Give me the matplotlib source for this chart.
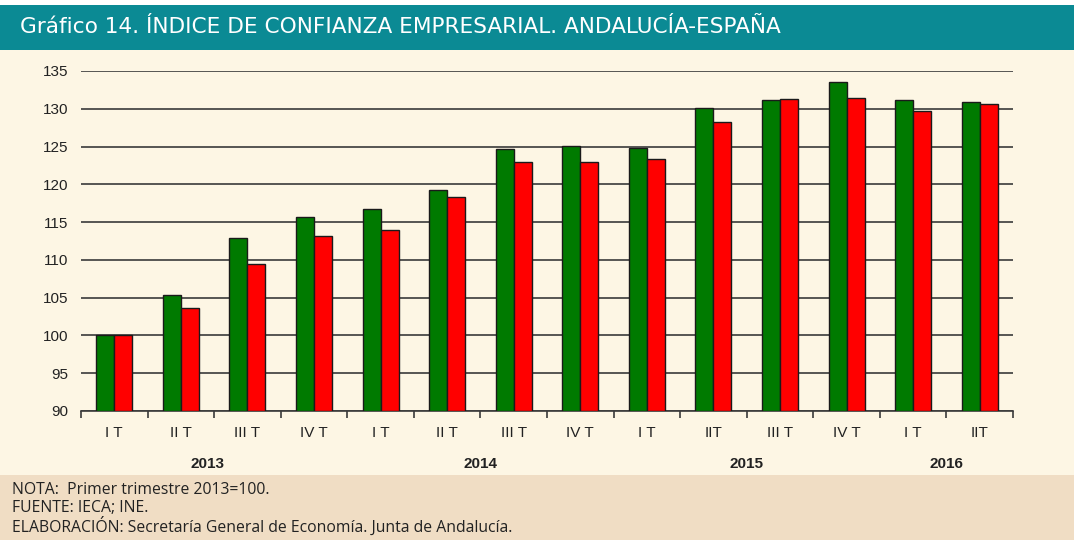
import numpy as np
import matplotlib.pyplot as plt
from matplotlib.patches import Rectangle

# Trimestres y valores (índice, I T 2013 = 100)
quarters = ['I T', 'II T', 'III T', 'IV T', 'I T', 'II T', 'III T', 'IV T',
            'I T', 'IIT', 'III T', 'IV T', 'I T', 'IIT']
years = ['2013', '2014', '2015', '2016']
year_pos = [1.4, 5.5, 9.5, 12.5]
andalucia = [100.0, 105.3, 112.9, 115.7, 116.7, 119.2, 124.7, 125.1,
             124.8, 130.1, 131.1, 133.6, 131.2, 130.9]
espana = [100.0, 103.6, 109.4, 113.1, 113.9, 118.3, 123.0, 123.0,
          123.4, 128.2, 131.3, 131.4, 129.7, 130.6]

W, H = 1074, 540
fig = plt.figure(figsize=(W / 100, H / 100), dpi=100)
fig.patch.set_facecolor('white')

# bandas de fondo: titulo, grafico, notas
fig.patches.append(Rectangle((0, 1 - 50 / H), 1, 45 / H, transform=fig.transFigure,
                             facecolor='#0b8a94', edgecolor='none', zorder=-5))
fig.patches.append(Rectangle((0, 65 / H), 1, (475 - 50) / H, transform=fig.transFigure,
                             facecolor='#fdf6e4', edgecolor='none', zorder=-5))
fig.patches.append(Rectangle((0, 0), 1, 65 / H, transform=fig.transFigure,
                             facecolor='#f0ddc4', edgecolor='none', zorder=-5))

fig.text(20 / W, 1 - 27 / H, 'Gráfico 14. ÍNDICE DE CONFIANZA EMPRESARIAL. ANDALUCÍA-ESPAÑA',
         color='white', fontsize=15.6, family='DejaVu Sans', va='center', ha='left')

notes = ['NOTA:  Primer trimestre 2013=100.',
         'FUENTE: IECA; INE.',
         'ELABORACIÓN: Secretaría General de Economía. Junta de Andalucía.']
for i, t in enumerate(notes):
    fig.text(12 / W, 1 - (490 + i * 18) / H, t, color='#222222', fontsize=11.3,
             family='Open Sans', va='center', ha='left')

ax = fig.add_axes([81 / W, 1 - 411 / H, (1013 - 81) / W, (411 - 71) / H])
ax.set_facecolor('none')

x = np.arange(len(quarters))
bw = 0.27
ax.bar(x - bw / 2, np.array(andalucia) - 90, bw, bottom=90, color='#007a00',
       edgecolor='#1a1a1a', linewidth=1.0, zorder=3)
ax.bar(x + bw / 2, np.array(espana) - 90, bw, bottom=90, color='#ff0000',
       edgecolor='#1a1a1a', linewidth=1.0, zorder=3)

ax.set_xlim(-0.5, len(quarters) - 0.5)
ax.set_ylim(90, 135)
ax.set_yticks(np.arange(90, 136, 5))
ax.yaxis.grid(True, color='#3a3a3a', linewidth=1.2)
ax.set_axisbelow(True)
for s in ['top', 'right', 'left']:
    ax.spines[s].set_visible(False)
ax.spines['bottom'].set_color('#3a3a3a')
ax.spines['bottom'].set_linewidth(1.2)
ax.tick_params(axis='y', length=0, pad=9, labelsize=11)
ax.set_xticks(np.arange(-0.5, len(quarters), 1))
ax.set_xticklabels([])
ax.tick_params(axis='x', length=5, width=1.2, color='#3a3a3a', direction='out')
for lab in ax.get_yticklabels():
    lab.set_family('Liberation Sans')
    lab.set_color('#222222')

for xi, q in zip(x, quarters):
    ax.text(xi, -0.065, q, transform=ax.get_xaxis_transform(), ha='center', va='center',
            fontsize=11, family='Liberation Sans', color='#222222')
for xp, y in zip(year_pos, years):
    ax.text(xp, -0.155, y, transform=ax.get_xaxis_transform(), ha='center', va='center',
            fontsize=11, family='Liberation Sans', fontweight='bold', color='#222222')

fig.savefig('out.png', dpi=100, facecolor=fig.get_facecolor())
